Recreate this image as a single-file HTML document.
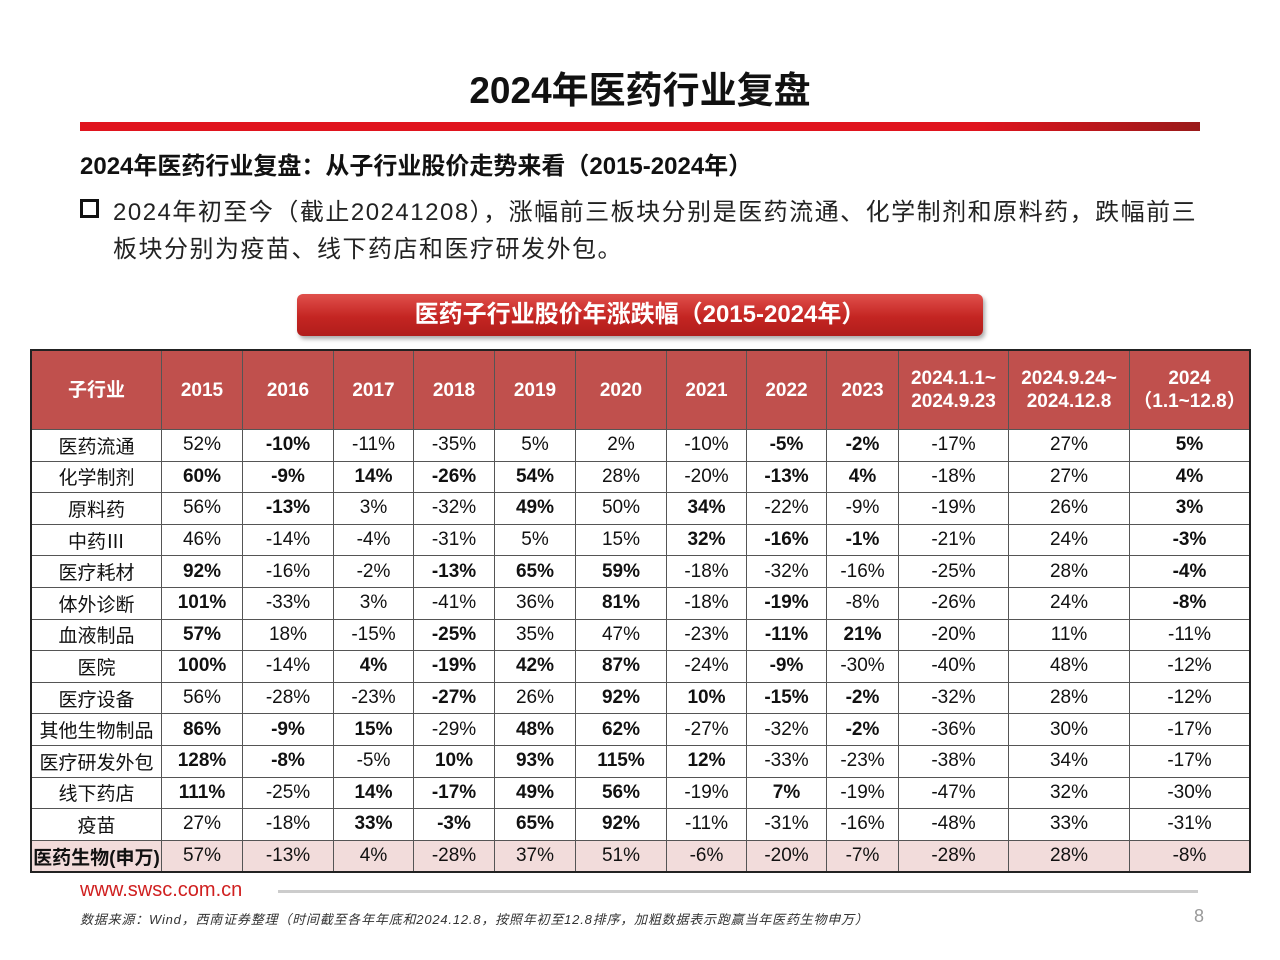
<!DOCTYPE html>
<html><head><meta charset="utf-8"><style>
body{margin:0;width:1280px;height:960px;background:#fff;position:relative;overflow:hidden;font-family:"Liberation Sans","Noto Sans CJK SC",sans-serif;}
.abs{position:absolute;}
#title{left:0;width:1280px;top:60px;text-align:center;font-size:37px;font-weight:bold;color:#111;}
#bar{left:80px;top:122px;width:1120px;height:9px;background:linear-gradient(90deg,#e0141e,#e0141e 80%,#9a1a1a);}
#sub{left:80px;top:146px;font-size:24px;font-weight:bold;color:#111;}
#bul{left:80px;top:194px;font-size:24px;color:#222;line-height:37px;width:1140px;letter-spacing:1.5px;white-space:nowrap;}
#bul .sq{display:inline-block;width:13px;height:13px;border:3px solid #111;margin-right:14px;vertical-align:2px;}
#banner{left:297px;top:294px;width:686px;height:42px;border-radius:6px;background:linear-gradient(#e0504c,#c42522 55%,#b01d1b);color:#fff;font-size:24px;font-weight:bold;text-align:center;line-height:42px;box-shadow:2px 3px 4px #aaa;}
table{position:absolute;left:30px;top:349px;border-collapse:collapse;font-size:19px;color:#111;}
td,th{border:1px solid #555;text-align:center;padding:0;}
th{background:#c0504d;color:#fff;font-size:19px;height:78px;line-height:23px;}
td{height:30.6px;}
td.b{font-weight:bold;}
tr.last td{background:#f2dcdb;}
table{border:2px solid #222;}
#url{left:80px;top:879px;font-size:20px;color:#d02020;}
#line{left:278px;top:890px;width:920px;height:3px;background:#ccc;}
#src{left:80px;top:909px;font-size:13px;font-style:italic;color:#333;letter-spacing:0.8px;}
#pg{left:1194px;top:906px;font-size:18px;color:#999;}
</style></head><body>
<div class="abs" id="title">2024年医药行业复盘</div>
<div class="abs" id="bar"></div>
<div class="abs" id="sub">2024年医药行业复盘：从子行业股价走势来看（2015-2024年）</div>
<div class="abs" id="bul"><span class="sq"></span>2024年初至今（截止20241208），涨幅前三板块分别是医药流通、化学制剂和原料药，跌幅前三<br><span style="padding-left:33px">板块分别为疫苗、线下药店和医疗研发外包。</span></div>
<div class="abs" id="banner">医药子行业股价年涨跌幅（2015-2024年）</div>
<table id="tbl"></table>
<div class="abs" id="url">www.swsc.com.cn</div>
<div class="abs" id="line"></div>
<div class="abs" id="src">数据来源：Wind，西南证券整理（时间截至各年年底和2024.12.8，按照年初至12.8排序，加粗数据表示跑赢当年医药生物申万）</div>
<div class="abs" id="pg">8</div>
<script>
const headers=["子行业","2015","2016","2017","2018","2019","2020","2021","2022","2023","2024.1.1~<br>2024.9.23","2024.9.24~<br>2024.12.8","2024<br>（1.1~12.8）"];
const widths=[130,81,91,80,81,81,91,80,80,72,110,121,120];
const industries=["医药流通","化学制剂","原料药","中药Ⅲ","医疗耗材","体外诊断","血液制品","医院","医疗设备","其他生物制品","医疗研发外包","线下药店","疫苗","医药生物(申万)"];
const values=[
["52%","*-10%","-11%","-35%","5%","2%","-10%","*-5%","*-2%","-17%","27%","*5%"],
["*60%","*-9%","*14%","*-26%","*54%","28%","-20%","*-13%","*4%","-18%","27%","*4%"],
["56%","*-13%","3%","-32%","*49%","50%","*34%","-22%","-9%","-19%","26%","*3%"],
["46%","-14%","-4%","-31%","5%","15%","*32%","*-16%","*-1%","-21%","24%","*-3%"],
["*92%","-16%","-2%","*-13%","*65%","*59%","-18%","-32%","-16%","-25%","28%","*-4%"],
["*101%","-33%","3%","-41%","36%","*81%","-18%","*-19%","-8%","-26%","24%","*-8%"],
["*57%","18%","-15%","*-25%","35%","47%","-23%","*-11%","*21%","-20%","11%","-11%"],
["*100%","-14%","*4%","*-19%","*42%","*87%","-24%","*-9%","-30%","-40%","48%","-12%"],
["56%","-28%","-23%","*-27%","26%","*92%","*10%","*-15%","*-2%","-32%","28%","-12%"],
["*86%","*-9%","*15%","-29%","*48%","*62%","-27%","-32%","*-2%","-36%","30%","-17%"],
["*128%","*-8%","-5%","*10%","*93%","*115%","*12%","-33%","-23%","-38%","34%","-17%"],
["*111%","-25%","*14%","*-17%","*49%","*56%","-19%","*7%","-19%","-47%","32%","-30%"],
["27%","-18%","*33%","*-3%","*65%","*92%","-11%","-31%","-16%","-48%","33%","-31%"],
["57%","-13%","4%","-28%","37%","51%","-6%","-20%","-7%","-28%","28%","-8%"]];
const t=document.getElementById('tbl');
let h='<tr>';
headers.forEach((x,i)=>{h+=`<th style="width:${widths[i]-1}px">${x}</th>`;});
h+='</tr>';
industries.forEach((n,r)=>{
 const last=r===industries.length-1;
 h+=`<tr class="${last?'last':''}"><td ${last?'style="font-weight:bold"':''}>${n}</td>`;
 values[r].forEach(v=>{const b=v[0]==='*';h+=`<td class="${b?'b':''}">${b?v.slice(1):v}</td>`;});
 h+='</tr>';
});
t.innerHTML=h;
</script>
</body></html>
